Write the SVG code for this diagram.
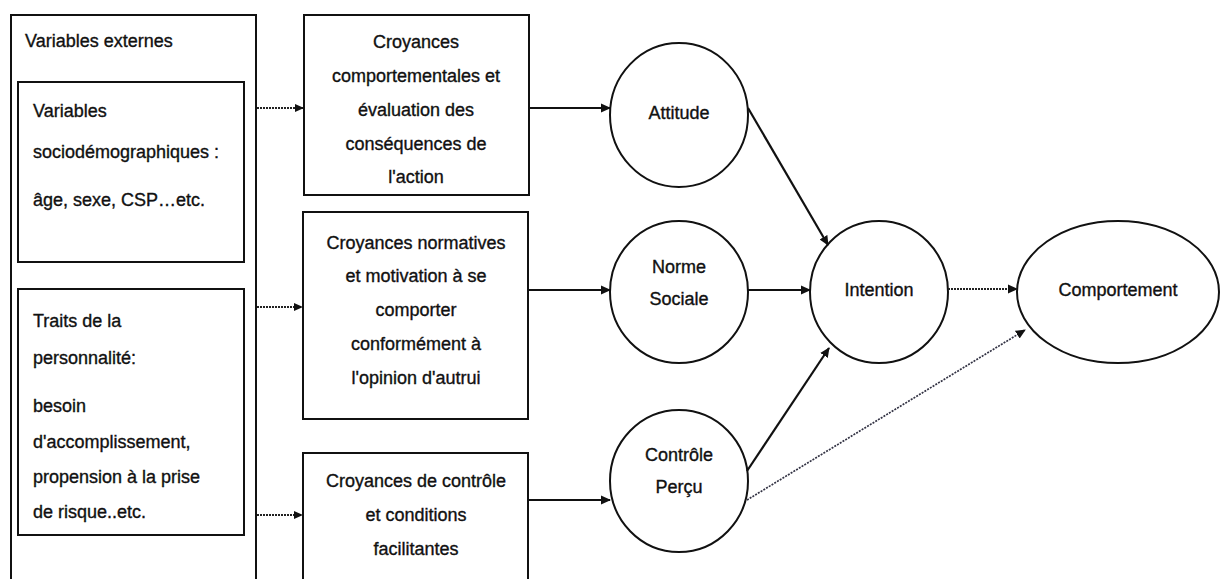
<svg xmlns="http://www.w3.org/2000/svg" width="1221" height="579" viewBox="0 0 1221 579">
<style>
text{font-family:"Liberation Sans",Arial,sans-serif;font-size:18px;fill:#111;stroke:#111;stroke-width:0.35}
.c{text-anchor:middle}
.box{fill:#fff;stroke:#111;stroke-width:2}
.ell{fill:#fff;stroke:#111;stroke-width:2}
.solid{stroke:#111;stroke-width:2.2;fill:none}
.dot{stroke:#222;stroke-width:2;stroke-dasharray:2 1;fill:none}
.dotb{stroke:#334;stroke-width:1.7;stroke-dasharray:2 1.2;fill:none}
</style>
<defs>
<marker id="ah" markerWidth="10" markerHeight="10" refX="9" refY="5" orient="auto" markerUnits="userSpaceOnUse">
<path d="M0,0.5 L10,5 L0,9.5 z" fill="#111"/>
</marker>
<marker id="ahs" markerWidth="9" markerHeight="9" refX="8" refY="4.5" orient="auto" markerUnits="userSpaceOnUse">
<path d="M0,0.5 L9,4.5 L0,8.5 z" fill="#111"/>
</marker>
</defs>
<rect width="1221" height="579" fill="#fff"/>

<g id="variables-externes">
<rect class="box" x="11" y="15" width="245" height="600"/>
<text x="25" y="47">Variables externes</text>
</g>
<g id="sociodemo">
<rect class="box" x="18" y="82" width="226" height="180"/>
<text x="33" y="117">Variables</text>
<text x="33" y="158">sociodémographiques :</text>
<text x="33" y="206">âge, sexe, CSP…etc.</text>
</g>
<g id="personnalite">
<rect class="box" x="18" y="289" width="226" height="246"/>
<text x="33" y="327">Traits de la</text>
<text x="33" y="364">personnalité:</text>
<text x="33" y="412">besoin</text>
<text x="33" y="448">d'accomplissement,</text>
<text x="33" y="483">propension à la prise</text>
<text x="33" y="518">de risque..etc.</text>
</g>

<g id="croyances-comportementales">
<rect class="box" x="304" y="15" width="225" height="180"/>
<text class="c" x="416" y="48">Croyances</text>
<text class="c" x="416" y="82">comportementales et</text>
<text class="c" x="416" y="116">évaluation des</text>
<text class="c" x="416" y="150">conséquences de</text>
<text class="c" x="416" y="183">l'action</text>
</g>
<g id="croyances-normatives">
<rect class="box" x="303" y="212" width="225" height="207"/>
<text class="c" x="416" y="249">Croyances normatives</text>
<text class="c" x="416" y="282">et motivation à se</text>
<text class="c" x="416" y="316">comporter</text>
<text class="c" x="416" y="350">conformément à</text>
<text class="c" x="416" y="384">l'opinion d'autrui</text>
</g>
<g id="croyances-controle">
<rect class="box" x="303" y="453" width="225" height="160"/>
<text class="c" x="416" y="487">Croyances de contrôle</text>
<text class="c" x="416" y="521">et conditions</text>
<text class="c" x="416" y="555">facilitantes</text>
</g>

<g id="attitude">
<ellipse class="ell" cx="679" cy="115" rx="69" ry="72"/>
<text class="c" x="679" y="119">Attitude</text>
</g>
<g id="norme-sociale">
<ellipse class="ell" cx="679" cy="292" rx="69" ry="71"/>
<text class="c" x="679" y="273">Norme</text>
<text class="c" x="679" y="305">Sociale</text>
</g>
<g id="controle-percu">
<ellipse class="ell" cx="679" cy="481" rx="69" ry="71"/>
<text class="c" x="679" y="461">Contrôle</text>
<text class="c" x="679" y="493">Perçu</text>
</g>
<g id="intention">
<ellipse class="ell" cx="879" cy="292" rx="69" ry="71"/>
<text class="c" x="879" y="296">Intention</text>
</g>
<g id="comportement">
<ellipse class="ell" cx="1118" cy="292" rx="101" ry="71"/>
<text class="c" x="1118" y="296">Comportement</text>
</g>

<g id="connectors">
<line class="dot" x1="257" y1="108" x2="303" y2="108" marker-end="url(#ahs)"/>
<line class="dot" x1="257" y1="307" x2="302" y2="307" marker-end="url(#ahs)"/>
<line class="dot" x1="257" y1="515" x2="302" y2="515" marker-end="url(#ahs)"/>
<line class="solid" x1="529" y1="108" x2="610" y2="108" marker-end="url(#ah)"/>
<line class="solid" x1="528" y1="290" x2="610" y2="290" marker-end="url(#ah)"/>
<line class="solid" x1="528" y1="500" x2="610" y2="500" marker-end="url(#ah)"/>
<line class="solid" x1="748" y1="290" x2="810" y2="290" marker-end="url(#ah)"/>
<line class="solid" x1="748" y1="108" x2="828" y2="245" marker-end="url(#ah)"/>
<line class="solid" x1="747" y1="471" x2="829" y2="348" marker-end="url(#ah)"/>
<line class="dot" x1="948" y1="289" x2="1017" y2="289" marker-end="url(#ah)"/>
<line class="dotb" x1="747" y1="500" x2="1025" y2="330" marker-end="url(#ah)"/>
</g>
</svg>
